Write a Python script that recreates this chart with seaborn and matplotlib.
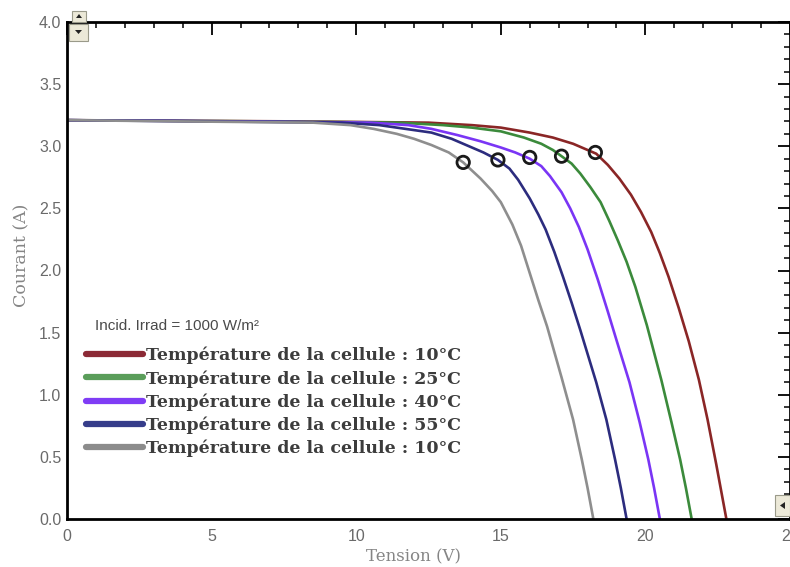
import matplotlib
matplotlib.use("Agg")
import matplotlib.pyplot as plt
import seaborn as sns
from matplotlib.patches import Rectangle, Polygon
from matplotlib.ticker import MultipleLocator, FormatStrFormatter

# I-V characteristics of a PV module at 1000 W/m² for several cell temperatures
labels = [
    "Température de la cellule : 10°C",
    "Température de la cellule : 25°C",
    "Température de la cellule : 40°C",
    "Température de la cellule : 55°C",
    "Température de la cellule : 10°C",
]

v_10 = [0, 8, 12.5, 14.0, 15.0, 16.0, 16.8, 17.5, 18.0, 18.3, 18.7, 19.1, 19.5,
        19.85, 20.2, 20.5, 20.8, 21.15, 21.5, 21.85, 22.15, 22.45, 22.8]
i_10 = [3.21, 3.20, 3.19, 3.17, 3.15, 3.11, 3.07, 3.02, 2.97, 2.94, 2.85, 2.74, 2.61,
        2.47, 2.31, 2.14, 1.95, 1.70, 1.43, 1.12, 0.80, 0.44, 0.0]

v_25 = [0, 7, 11.5, 13.0, 14.0, 15.0, 15.8, 16.4, 16.8, 17.1, 17.45, 17.75, 18.1,
        18.45, 18.75, 19.05, 19.35, 19.65, 20.05, 20.55, 20.9, 21.2, 21.4, 21.6]
i_25 = [3.21, 3.20, 3.19, 3.17, 3.15, 3.12, 3.07, 3.02, 2.97, 2.92, 2.86, 2.78, 2.67,
        2.55, 2.40, 2.24, 2.07, 1.87, 1.56, 1.12, 0.78, 0.48, 0.25, 0.0]

v_40 = [0, 6, 10.5, 11.8, 12.6, 13.5, 14.3, 15.0, 15.5, 16.0, 16.4, 16.7, 17.1,
        17.4, 17.7, 18.0, 18.35, 18.7, 19.0, 19.45, 19.8, 20.1, 20.3, 20.5]
i_40 = [3.21, 3.20, 3.19, 3.17, 3.14, 3.09, 3.04, 2.99, 2.95, 2.90, 2.84, 2.76, 2.63,
        2.50, 2.35, 2.17, 1.93, 1.67, 1.44, 1.10, 0.78, 0.48, 0.25, 0.0]

v_55 = [0, 5, 9.5, 10.8, 11.7, 12.6, 13.3, 13.9, 14.4, 14.9, 15.3, 15.6, 16.0,
        16.3, 16.55, 16.85, 17.15, 17.45, 17.75, 18.3, 18.65, 18.95, 19.15, 19.35]
i_55 = [3.21, 3.20, 3.19, 3.17, 3.14, 3.11, 3.06, 3.00, 2.95, 2.89, 2.82, 2.73, 2.58,
        2.45, 2.33, 2.15, 1.95, 1.74, 1.52, 1.10, 0.80, 0.48, 0.25, 0.0]

v_70 = [0, 4, 8.5, 9.8, 10.6, 11.4, 12.0, 12.6, 13.2, 13.7, 14.3, 14.7, 15.0,
        15.4, 15.7, 16.0, 16.3, 16.6, 17.1, 17.5, 17.8, 18.0, 18.2]
i_70 = [3.21, 3.20, 3.19, 3.17, 3.14, 3.10, 3.06, 3.01, 2.95, 2.87, 2.74, 2.64, 2.55,
        2.37, 2.20, 1.98, 1.76, 1.55, 1.14, 0.80, 0.48, 0.25, 0.0]

# maximum power points
mpp_v = [13.7, 14.9, 16.0, 17.1, 18.27]
mpp_i = [2.87, 2.89, 2.91, 2.92, 2.95]

x_ticks = [0, 5, 10, 15, 20, 25]
y_ticks = [0.0, 0.5, 1.0, 1.5, 2.0, 2.5, 3.0, 3.5, 4.0]

curves = [(v_10, i_10), (v_25, i_25), (v_40, i_40), (v_55, i_55), (v_70, i_70)]
line_colors = ["#8a2626", "#3b8a3b", "#7a35f5", "#2c2c7e", "#8e8e8e"]
legend_colors = ["#8c2a36", "#5a9d5a", "#7f3cf5", "#363d8a", "#8c8c8c"]

sns.set_style("white")
W, H = 790, 567
fig = plt.figure(figsize=(W / 100, H / 100), dpi=100)
ax = fig.add_axes([67 / W, 48 / H, 723 / W, 497 / H])

for (v, i), col, lab in zip(curves, line_colors, labels):
    sns.lineplot(x=v, y=i, ax=ax, color=col, linewidth=1.9, label=lab,
                 estimator=None, sort=False)

sns.scatterplot(x=mpp_v, y=mpp_i, ax=ax, marker="o", s=80, facecolor="none",
                edgecolor="#1a1a1a", linewidth=2.0, zorder=5, legend=False)

ax.set_xlim(0, 25)
ax.set_ylim(0, 4)
ax.set_xticks(x_ticks)
ax.set_yticks(y_ticks)
ax.xaxis.set_minor_locator(MultipleLocator(1))
ax.yaxis.set_minor_locator(MultipleLocator(0.1))
ax.yaxis.set_major_formatter(FormatStrFormatter("%.1f"))
ax.tick_params(which="both", direction="in", top=True, right=True, colors="black",
               labelcolor="#6a6a6a", labelsize=11.5)
ax.tick_params(axis="x", which="major", pad=7)
ax.tick_params(axis="y", which="major", pad=4)
ax.tick_params(which="major", length=9, width=1.3)
ax.tick_params(which="minor", length=4.5, width=1.1)
for lbl in ax.get_xticklabels() + ax.get_yticklabels():
    lbl.set_fontfamily("Liberation Sans")
for sp in ax.spines.values():
    sp.set_color("black")
    sp.set_linewidth(2.0)

ax.set_xlabel("Tension (V)", family="DejaVu Serif", fontsize=12, color="#858585")
ax.set_ylabel("Courant (A)", family="DejaVu Serif", fontsize=12.5, color="#858585")
ax.xaxis.set_label_coords((414 - 67) / 723, -(548 - 519) / 497)
ax.yaxis.set_label_coords(-(67 - 30) / 723, (519 - 255) / 497)

leg = ax.legend(loc="upper left", bbox_to_anchor=(86 / W, 1 - 347 / H),
                bbox_transform=fig.transFigure, frameon=False,
                prop={"family": "DejaVu Serif", "weight": "bold", "size": 12.5},
                handlelength=3.3, handletextpad=0.15, labelspacing=0.32,
                borderpad=0, borderaxespad=0)
for txt in leg.get_texts():
    txt.set_color("#3c3c3c")
for hnd, col in zip(leg.get_lines(), legend_colors):
    hnd.set_color(col)
    hnd.set_linewidth(4.5)
    hnd.set_solid_capstyle("round")

fig.text(95 / W, 1 - 326 / H, "Incid. Irrad = 1000 W/m²", family="Liberation Sans",
         fontsize=11, color="#4a4a4a", va="center", ha="left")


def box(x0, y0, x1, y1):
    return Rectangle((x0 / W, 1 - y1 / H), (x1 - x0) / W, (y1 - y0) / H,
                     transform=fig.transFigure, facecolor="#ece9d8",
                     edgecolor="#9a9a8a", linewidth=0.8, zorder=10)


def tri(points):
    return Polygon([(px / W, 1 - py / H) for px, py in points], closed=True,
                   transform=fig.transFigure, facecolor="#222222",
                   edgecolor="none", zorder=11)


# scroll widgets of the plotting window
fig.add_artist(box(72, 11, 86, 22))
fig.add_artist(tri([(76, 18), (82, 18), (79, 14)]))
fig.add_artist(box(69, 24, 88, 41))
fig.add_artist(tri([(75, 30), (82, 30), (78.5, 34)]))
fig.add_artist(box(775, 495, 790, 516))
fig.add_artist(tri([(785, 502), (785, 509), (780, 505.5)]))

fig.savefig("out.png", dpi=100, facecolor="white")
